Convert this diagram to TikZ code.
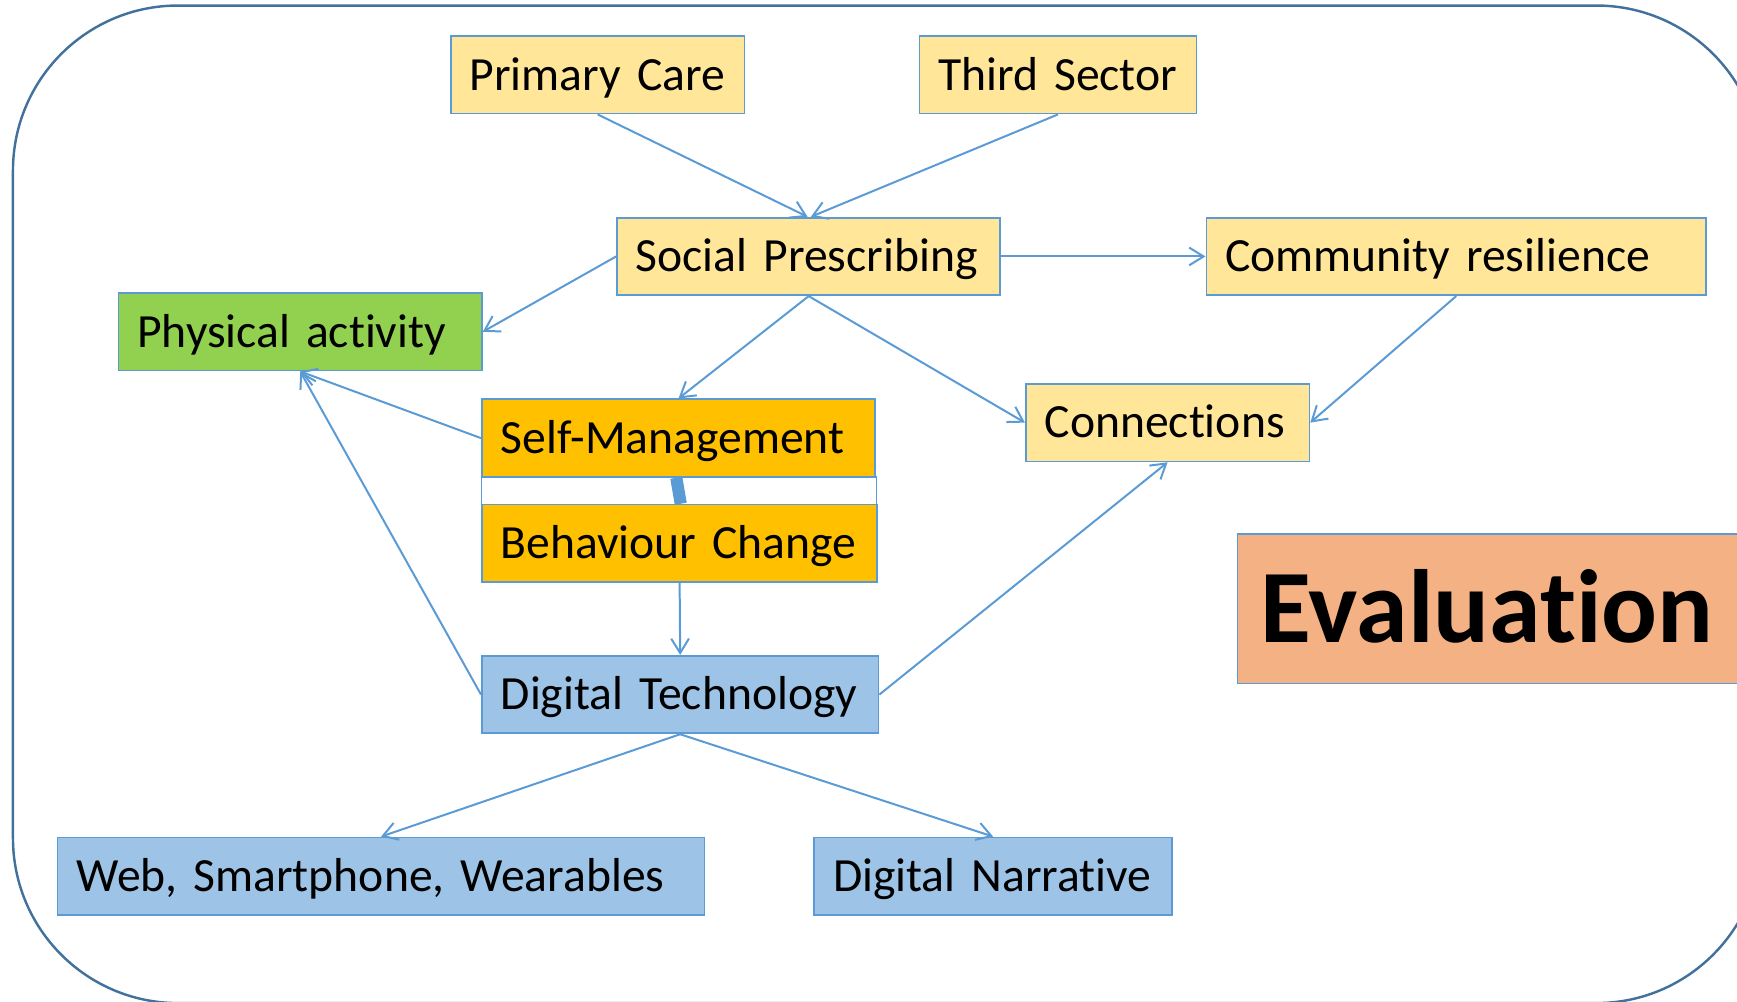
\documentclass[tikz,border=0pt]{standalone}
\usepackage{fontspec}
\setmainfont[Ligatures=NoCommon,WordSpace=0.8]{Carlito}
\usetikzlibrary{arrows.meta}
\definecolor{bl}{HTML}{5B9BD5}
\definecolor{ylw}{HTML}{FFE699}
\definecolor{org}{HTML}{FFC000}
\definecolor{grn}{HTML}{92D050}
\definecolor{lbl}{HTML}{9DC3E6}
\definecolor{sal}{HTML}{F4B183}
\definecolor{framec}{HTML}{41719C}
\begin{document}
\begin{tikzpicture}[x=1pt,y=-1pt,
  box/.style={draw=bl, line width=1.6pt, inner xsep=17pt, inner ysep=0pt,
    minimum height=70pt, align=left,
    font=\fontsize{43}{50}\selectfont, text height=27.7pt, text depth=0pt},
  conn/.style={draw=bl, line width=1.8pt, -{Straight Barb[length=13pt,width=16pt,line width=1.8pt]}}]
\path[use as bounding box] (0,0) rectangle (1568,904);
\clip (0,0) rectangle (1568,904);
\draw[framec, line width=2.2pt, rounded corners=149pt] (11.7,5) rectangle (1590,905.5);

\node[box, fill=ylw, text width=231pt] (pc) at (539.5,67.5) {Primary Care};
\node[box, fill=ylw, text width=216pt] (ts) at (955,67.5) {Third Sector};
\node[box, fill=ylw, text width=312pt] (sp) at (730,231.5) {Social Prescribing};
\node[box, fill=ylw, text width=417pt] (cr) at (1314.5,231.5) {Community resilience};
\node[box, fill=grn, text width=294pt] (pa) at (271,299.5) {Physical activity};
\node[box, fill=ylw, text width=222pt] (cn) at (1054,381.5) {Connections};
\node[draw=bl, line width=1pt, fill=white, minimum width=356pt, minimum height=26pt, inner sep=0pt] (gap) at (613,443.3) {};
\node[box, fill=org, text width=321pt] (sm) at (612.5,395.5) {Self-Management};
\node[box, fill=org, text width=323pt] (bc) at (613.5,490.5) {Behaviour Change};
\node[box, fill=lbl, text width=324pt] (dt) at (614,627) {Digital Technology};
\node[box, fill=lbl, text width=550pt] (web) at (344,791) {Web, Smartphone, Wearables};
\node[box, fill=lbl, text width=289pt] (dn) at (896.5,791) {Digital Narrative};
\node[box, fill=sal, text width=441pt, inner xsep=21pt, minimum height=135pt,
  font=\fontsize{94}{100}\selectfont\bfseries, text height=60.5pt] (ev) at (1358.5,549.5) {Evaluation};

\draw[bl, line width=11pt] ([xshift=-2pt]sm.south) -- ([xshift=1pt]bc.north);

\draw[conn] (pc.south) -- ([xshift=-1pt]sp.north);
\draw[conn] (ts.south) -- ([xshift=2pt]sp.north);
\draw[conn] (sp.east) -- (cr.west);
\draw[conn] (sp.west) -- (pa.east);
\draw[conn] (sp.south) -- (sm.north);
\draw[conn] (sp.south) -- (cn.west);
\draw[conn] (cr.south) -- (cn.east);
\draw[conn] (sm.west) -- (pa.south);
\draw[conn] (dt.west) -- (pa.south);
\draw[conn] (bc.south) -- (dt.north);
\draw[conn] (dt.east) -- (cn.south);
\draw[conn] (dt.south) -- (web.north);
\draw[conn] (dt.south) -- (dn.north);
\end{tikzpicture}
\end{document}
